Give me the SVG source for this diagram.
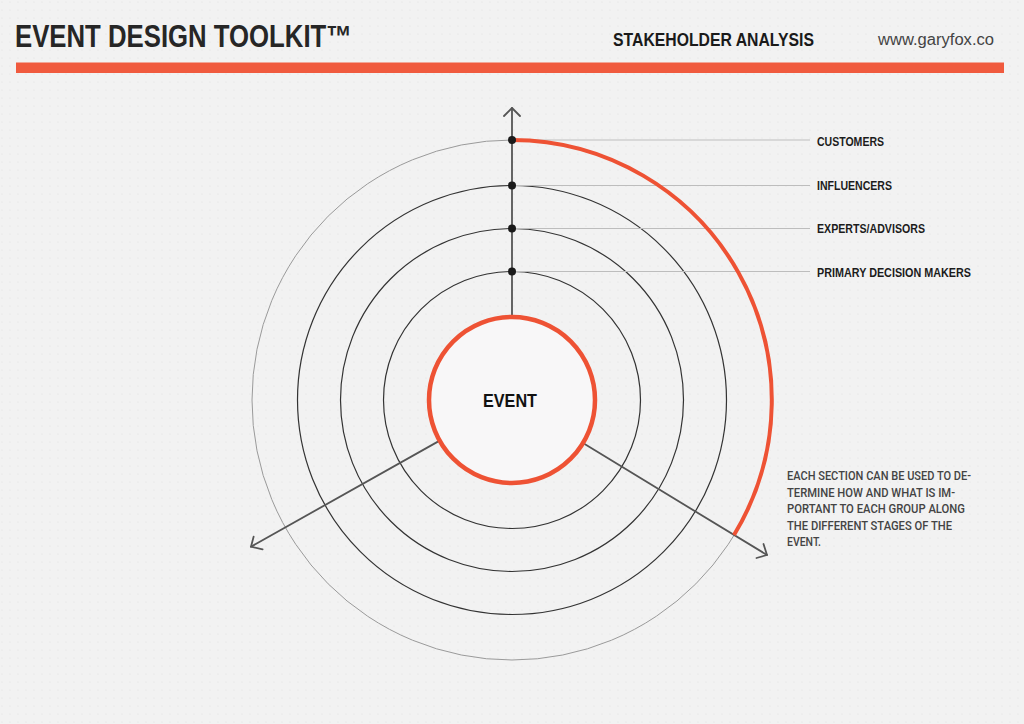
<svg xmlns="http://www.w3.org/2000/svg" width="1024" height="724" viewBox="0 0 1024 724">
<defs>
<pattern id="dots" x="0" y="0" width="8" height="8" patternUnits="userSpaceOnUse">
<circle cx="2" cy="2" r="0.6" fill="#e0e0e0"/>
</pattern>
<style>
.hd{font-family:"Liberation Sans",Arial,sans-serif;font-weight:bold}
.lbl{font-family:"Liberation Sans",Arial,sans-serif;font-weight:bold;font-size:12.5px;fill:#1c1c1c}
.para{font-family:Roboto,"Liberation Sans",Arial,sans-serif;font-weight:500;font-size:12.5px;fill:#444}
.ring{fill:none;stroke:#333;stroke-width:1.2}
.lead{stroke:#bdbdbd;stroke-width:1.2}
.axis{fill:none;stroke:#555;stroke-width:1.8;stroke-linecap:round;stroke-linejoin:round}
.dot{fill:#1a1a1a}
</style>
</defs>
<rect width="1024" height="724" fill="#f2f2f2"/>
<rect width="1024" height="724" fill="url(#dots)"/>

<g id="header">
<text class="hd" x="15" y="47" font-size="31" fill="#262626" textLength="337" lengthAdjust="spacingAndGlyphs">EVENT DESIGN TOOLKIT™</text>
<text class="hd" x="613" y="46" font-size="18" fill="#1a1a1a" textLength="201" lengthAdjust="spacingAndGlyphs">STAKEHOLDER ANALYSIS</text>
<text x="878" y="45" font-family="'Liberation Sans',Arial,sans-serif" font-size="16" fill="#444" textLength="116" lengthAdjust="spacingAndGlyphs">www.garyfox.co</text>
<rect x="16" y="62.5" width="988" height="10.5" fill="#f05a3e"/>
</g>

<g id="rings">
<circle cx="512" cy="400" r="260" fill="none" stroke="#9a9a9a" stroke-width="1"/>
<circle class="ring" cx="512" cy="400" r="214.5"/>
<circle class="ring" cx="512" cy="400" r="171.5"/>
<circle class="ring" cx="512" cy="400" r="128.5"/>
</g>

<g id="connectors">
<line class="lead" x1="512" y1="140" x2="810" y2="140"/>
<line class="lead" x1="512" y1="185.5" x2="810" y2="185.5"/>
<line class="lead" x1="512" y1="228.5" x2="810" y2="228.5"/>
<line class="lead" x1="512" y1="271.5" x2="810" y2="271.5"/>
<line class="axis" x1="512" y1="108" x2="512" y2="317"/>
<polyline class="axis" points="504,116 512,108 520,116"/>
<line class="axis" x1="438.8" y1="441.1" x2="251" y2="546.7"/>
<polyline class="axis" points="253.6,536.7 251,546.7 262.6,549.3"/>
<line class="axis" x1="583.8" y1="443.6" x2="767" y2="555"/>
<polyline class="axis" points="763.5,544 767,555 756.5,558"/>
<path d="M512 140 A260 260 0 0 1 734 535" fill="none" stroke="#ee5234" stroke-width="4"/>
</g>

<g id="ring-dots">
<circle class="dot" cx="512" cy="140" r="4"/>
<circle class="dot" cx="512" cy="185.5" r="4"/>
<circle class="dot" cx="512" cy="228.5" r="4"/>
<circle class="dot" cx="512" cy="271.5" r="4"/>
</g>

<g id="event">
<circle cx="512" cy="400" r="83" fill="#f8f7f8" stroke="#ee5234" stroke-width="4.5"/>
<text class="hd" x="483" y="407" font-size="18" fill="#111" textLength="54" lengthAdjust="spacingAndGlyphs">EVENT</text>
</g>

<g id="labels">
<text class="lbl" x="817" y="146" textLength="67" lengthAdjust="spacingAndGlyphs">CUSTOMERS</text>
<text class="lbl" x="817" y="189.5" textLength="75" lengthAdjust="spacingAndGlyphs">INFLUENCERS</text>
<text class="lbl" x="817" y="233" textLength="108" lengthAdjust="spacingAndGlyphs">EXPERTS/ADVISORS</text>
<text class="lbl" x="817" y="277" textLength="154" lengthAdjust="spacingAndGlyphs">PRIMARY DECISION MAKERS</text>
</g>

<g id="note">
<text class="para" x="787" y="480" textLength="184" lengthAdjust="spacingAndGlyphs">EACH SECTION CAN BE USED TO DE-</text>
<text class="para" x="787" y="496.5" textLength="168" lengthAdjust="spacingAndGlyphs">TERMINE HOW AND WHAT IS IM-</text>
<text class="para" x="787" y="513" textLength="178" lengthAdjust="spacingAndGlyphs">PORTANT TO EACH GROUP ALONG</text>
<text class="para" x="787" y="529.5" textLength="165" lengthAdjust="spacingAndGlyphs">THE DIFFERENT STAGES OF THE</text>
<text class="para" x="787" y="546" textLength="34" lengthAdjust="spacingAndGlyphs">EVENT.</text>
</g>
</svg>
